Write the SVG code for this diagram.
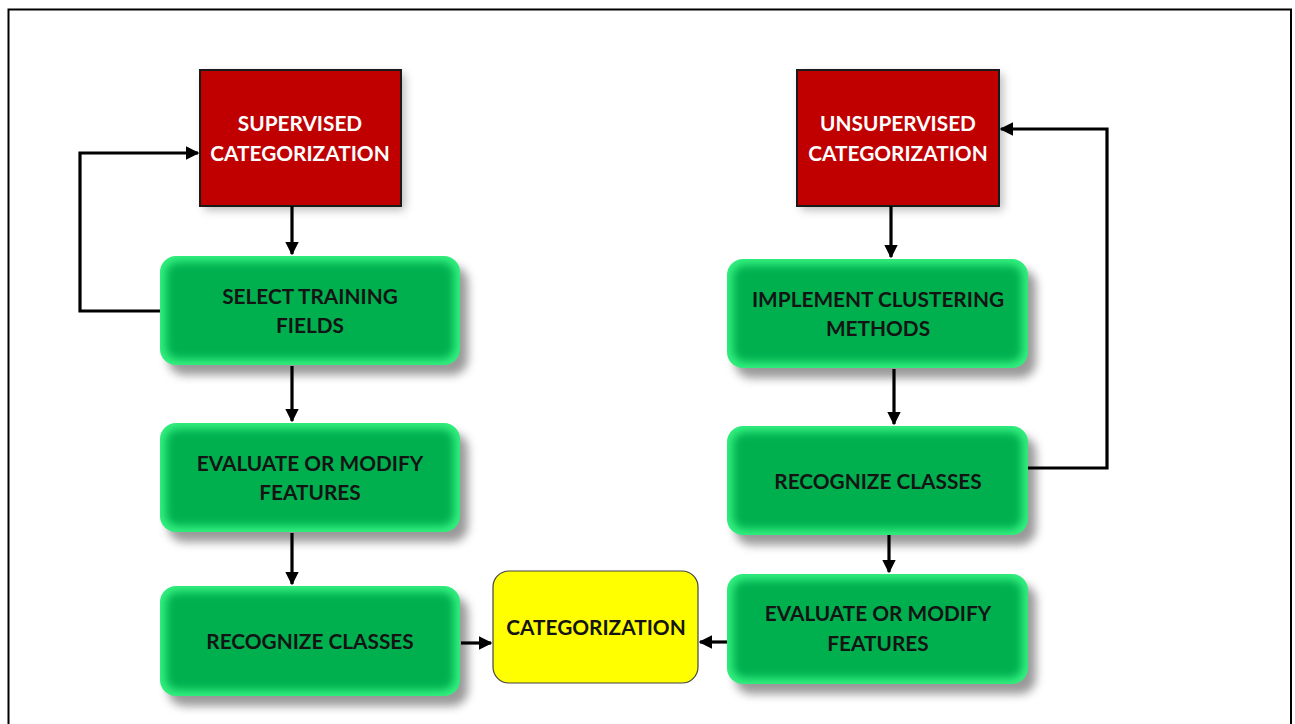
<svg xmlns="http://www.w3.org/2000/svg" width="1295" height="724" viewBox="0 0 1295 724">
<style>
.lbl{font-family:Lato,"Open Sans","Liberation Sans",sans-serif;font-weight:bold;font-size:20.8px;text-anchor:middle}
.w{fill:#ffffff}
.d{fill:#141414}
.red{fill:#c00000;stroke:#1a1a1a;stroke-width:2}
.gout{fill:#33f07f}
.gin{fill:#00b050;filter:url(#soft)}
.sh{fill:#808080;filter:url(#shadow);opacity:0.8}
.con{fill:none;stroke:#000;stroke-width:3.2}
</style>
<defs>
<filter id="soft" x="-10%" y="-20%" width="120%" height="140%"><feGaussianBlur stdDeviation="4"/></filter>
<filter id="shadow" x="-10%" y="-20%" width="130%" height="150%"><feGaussianBlur stdDeviation="5"/></filter>
<marker id="ah" viewBox="0 0 10 10" refX="9" refY="5" markerWidth="4.2" markerHeight="4.2" orient="auto" markerUnits="strokeWidth"><path d="M0,0 L10,5 L0,10 z" fill="#000"/></marker>
<clipPath id="c1"><rect x="160" y="256" width="300" height="109" rx="16"/></clipPath>
<clipPath id="c2"><rect x="160" y="423" width="300" height="109" rx="16"/></clipPath>
<clipPath id="c3"><rect x="160" y="586" width="300" height="110" rx="16"/></clipPath>
<clipPath id="c4"><rect x="727" y="259" width="301" height="109" rx="16"/></clipPath>
<clipPath id="c5"><rect x="727" y="426" width="301" height="109" rx="16"/></clipPath>
<clipPath id="c6"><rect x="727" y="574" width="301" height="110" rx="16"/></clipPath>
</defs>
<rect x="0" y="0" width="1295" height="724" fill="#ffffff"/>
<path d="M8.5,730 V9.5 H1291 V730" fill="none" stroke="#000" stroke-width="2"/>

<g id="supervised">
<rect x="204" y="74" width="201" height="136" fill="#777" opacity="0.5" filter="url(#shadow)"/>
<rect class="red" x="200" y="70" width="201" height="136"/>
<text class="lbl w" x="300" y="131">SUPERVISED</text>
<text class="lbl w" x="300" y="161">CATEGORIZATION</text>
</g>
<g id="unsupervised">
<rect x="801" y="74" width="202" height="136" fill="#777" opacity="0.5" filter="url(#shadow)"/>
<rect class="red" x="797" y="70" width="202" height="136"/>
<text class="lbl w" x="898" y="131">UNSUPERVISED</text>
<text class="lbl w" x="898" y="161">CATEGORIZATION</text>
</g>

<g id="select-training">
<rect class="sh" x="168" y="266" width="300" height="109" rx="16"/>
<rect class="gout" x="160" y="256" width="300" height="109" rx="16"/>
<rect class="gin" x="166" y="262" width="288" height="97" rx="12" clip-path="url(#c1)"/>
<text class="lbl d" x="310" y="304">SELECT TRAINING</text>
<text class="lbl d" x="310" y="333">FIELDS</text>
</g>
<g id="evaluate-left">
<rect class="sh" x="168" y="433" width="300" height="109" rx="16"/>
<rect class="gout" x="160" y="423" width="300" height="109" rx="16"/>
<rect class="gin" x="166" y="429" width="288" height="97" rx="12" clip-path="url(#c2)"/>
<text class="lbl d" x="310" y="471">EVALUATE OR MODIFY</text>
<text class="lbl d" x="310" y="500">FEATURES</text>
</g>
<g id="recognize-left">
<rect class="sh" x="168" y="596" width="300" height="110" rx="16"/>
<rect class="gout" x="160" y="586" width="300" height="110" rx="16"/>
<rect class="gin" x="166" y="592" width="288" height="98" rx="12" clip-path="url(#c3)"/>
<text class="lbl d" x="310" y="649">RECOGNIZE CLASSES</text>
</g>
<g id="implement-clustering">
<rect class="sh" x="735" y="269" width="301" height="109" rx="16"/>
<rect class="gout" x="727" y="259" width="301" height="109" rx="16"/>
<rect class="gin" x="733" y="265" width="289" height="97" rx="12" clip-path="url(#c4)"/>
<text class="lbl d" x="878" y="307">IMPLEMENT CLUSTERING</text>
<text class="lbl d" x="878" y="336">METHODS</text>
</g>
<g id="recognize-right">
<rect class="sh" x="735" y="436" width="301" height="109" rx="16"/>
<rect class="gout" x="727" y="426" width="301" height="109" rx="16"/>
<rect class="gin" x="733" y="432" width="289" height="97" rx="12" clip-path="url(#c5)"/>
<text class="lbl d" x="878" y="489">RECOGNIZE CLASSES</text>
</g>
<g id="evaluate-right">
<rect class="sh" x="735" y="584" width="301" height="110" rx="16"/>
<rect class="gout" x="727" y="574" width="301" height="110" rx="16"/>
<rect class="gin" x="733" y="580" width="289" height="98" rx="12" clip-path="url(#c6)"/>
<text class="lbl d" x="878" y="621">EVALUATE OR MODIFY</text>
<text class="lbl d" x="878" y="651">FEATURES</text>
</g>
<g id="categorization">
<rect x="493" y="571" width="205" height="112" rx="16" fill="#ffff00" stroke="#444" stroke-width="1.2"/>
<text class="lbl d" x="596" y="635">CATEGORIZATION</text>
</g>

<g id="connectors">
<path class="con" d="M160,311 H80 V153 H198" marker-end="url(#ah)"/>
<path class="con" d="M292,206 V254" marker-end="url(#ah)"/>
<path class="con" d="M292,366 V421" marker-end="url(#ah)"/>
<path class="con" d="M292,533 V584" marker-end="url(#ah)"/>
<path class="con" d="M461,643 H491" marker-end="url(#ah)"/>
<path class="con" d="M891,206 V257" marker-end="url(#ah)"/>
<path class="con" d="M894,369 V424" marker-end="url(#ah)"/>
<path class="con" d="M889,535 V572" marker-end="url(#ah)"/>
<path class="con" d="M1028,468 H1107 V129 H1001" marker-end="url(#ah)"/>
<path class="con" d="M727,642 H700" marker-end="url(#ah)"/>
</g>
</svg>
